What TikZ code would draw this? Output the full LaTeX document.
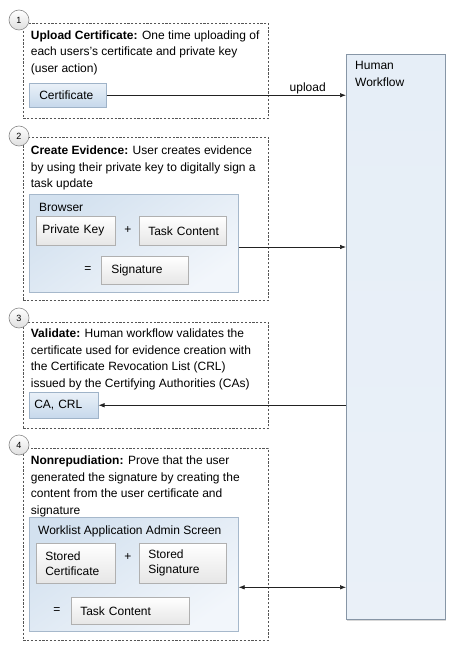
\documentclass[tikz,border=0pt]{standalone}
\usepackage{fontspec}
\setmainfont{Liberation Sans}
\usetikzlibrary{arrows.meta,shadows}
\definecolor{framec}{HTML}{555555}
\definecolor{numc}{HTML}{8A8A8A}
\definecolor{panelb}{HTML}{A6B8CB}
\definecolor{panelA}{HTML}{D3E1EF}
\definecolor{panelB}{HTML}{F2F6FB}
\definecolor{wboxb}{HTML}{B0B0B0}
\definecolor{wboxbot}{HTML}{E6E6E6}
\definecolor{bboxb}{HTML}{9FB3C8}
\definecolor{bboxA}{HTML}{EAF1F8}
\definecolor{bboxB}{HTML}{C6D8EB}
\definecolor{hwfill}{HTML}{E6EEF7}
\definecolor{hwb}{HTML}{8796A6}
\definecolor{linec}{HTML}{222222}
\tikzset{
  frame/.style={draw=framec, dash pattern=on 2.2pt off 1.6pt, line width=0.6pt, anchor=north west, inner sep=0},
  num/.style={circle, draw=numc, line width=0.6pt, top color=white, bottom color=gray!25, minimum size=20pt, inner sep=0, font=\fontsize{9}{9}\selectfont},
  desc/.style={anchor=north west, inner sep=0, align=left, font=\fontsize{12}{16.7}\selectfont},
  plain/.style={inner sep=0, font=\fontsize{12}{16}\selectfont},
  panel/.style={anchor=north west, draw=panelb, line width=0.6pt, top color=panelA, bottom color=panelB, shading angle=35, inner sep=0},
  wbox/.style={anchor=north west, draw=wboxb, line width=0.5pt, top color=white, bottom color=wboxbot, align=left,
     drop shadow={shadow xshift=0.8pt, shadow yshift=-0.8pt, opacity=0.25}, font=\fontsize{12}{15}\selectfont, inner ysep=0},
  bbox/.style={anchor=north west, draw=bboxb, line width=0.5pt, top color=bboxA, bottom color=bboxB, align=left,
     drop shadow={shadow xshift=0.8pt, shadow yshift=-0.8pt, opacity=0.2}, font=\fontsize{12}{15}\selectfont, inner ysep=0},
  hwbox/.style={anchor=north west, draw=hwb, line width=0.8pt, top color=hwfill, bottom color=hwfill!85!white, inner sep=0,
     drop shadow={shadow xshift=1pt, shadow yshift=-1.2pt, opacity=0.3}},
  conn/.style={draw=linec, line width=0.7pt},
  tipend/.style={-{Latex[length=6pt,width=4.5pt]}},
  tipboth/.style={{Latex[length=6pt,width=4.5pt]}-{Latex[length=6pt,width=4.5pt]}}
}
\begin{document}
\begin{tikzpicture}[x=1pt,y=-1pt]
\useasboundingbox (0,0) rectangle (453,650);
\fill[white] (0,0) rectangle (453,650);

% Human Workflow
\node[hwbox, minimum width=99pt, minimum height=565pt] (hw) at (346,54) {};
\node[plain, anchor=north west, align=left, font=\fontsize{12}{16.7}\selectfont] (hwt) at (355,61) {Human\\Workflow};

% frames
\node[frame, minimum width=245pt, minimum height=95pt] (f1) at (23,23) {};
\node[frame, minimum width=245pt, minimum height=163pt] (f2) at (23,137) {};
\node[frame, minimum width=245pt, minimum height=106pt] (f3) at (23,322) {};
\node[frame, minimum width=245pt, minimum height=192pt] (f4) at (23,448) {};

\node[num] (n1) at (19,20) {1};
\node[num] (n2) at (19,136) {2};
\node[num] (n3) at (19,318) {3};
\node[num] (n4) at (19,445) {4};

% step 1
\node[desc] (d1) at (30.7,30.2) {\textbf{Upload Certificate:} One time uploading of\\each users's certificate and private key\\(user action)};
\node[bbox, minimum width=77pt, minimum height=24pt, inner xsep=10pt, text width=57pt] (cert) at (29,83) {\mbox{Certificate}};

% step 2
\node[desc] (d2) at (30.7,145.5) {\textbf{Create Evidence:} User creates evidence\\by using their private key to digitally sign a\\task update};
\node[panel, minimum width=209pt, minimum height=98pt] (browser) at (29,194) {};
\node[plain, anchor=base west] (bt) at (39,211) {Browser};
\node[wbox, minimum width=79pt, minimum height=29pt, inner xsep=6pt, text width=67pt] (pk) at (36,216) {\mbox{Private Key}};
\node[plain] (plus1) at (128,230) {+};
\node[wbox, minimum width=87pt, minimum height=29pt, inner xsep=9pt, text width=69pt] (tc1) at (139,216) {\mbox{Task Content}};
\node[plain] (eq1) at (88,270) {=};
\node[wbox, minimum width=87pt, minimum height=28pt, inner xsep=10pt, text width=67pt] (sig) at (101,256) {\mbox{Signature}};

% step 3
\node[desc] (d3) at (30.7,328.5) {\textbf{Validate:} Human workflow validates the\\certificate used for evidence creation with\\the Certificate Revocation List (CRL)\\issued by the Certifying Authorities (CAs)};
\node[bbox, minimum width=69pt, minimum height=26pt, inner xsep=5pt, text width=59pt] (ca) at (29,392) {\mbox{CA, CRL}};

% step 4
\node[desc] (d4) at (30.7,455.5) {\textbf{Nonrepudiation:} Prove that the user\\generated the signature by creating the\\content from the user certificate and\\signature};
\node[panel, minimum width=209pt, minimum height=114pt] (wl) at (29,517) {};
\node[plain, anchor=base west] (wlt) at (38,534.3) {Worklist Application Admin Screen};
\node[wbox, minimum width=79pt, minimum height=40pt, inner xsep=9pt, text width=61pt] (sc) at (36,543) {\mbox{Stored}\\\mbox{Certificate}};
\node[plain] (plus2) at (128,557) {+};
\node[wbox, minimum width=87pt, minimum height=40pt, inner xsep=9pt, text width=69pt] (ss) at (139,543) {\mbox{Stored}\\\mbox{Signature}};
\node[plain] (eq2) at (57,611) {=};
\node[wbox, minimum width=118pt, minimum height=27pt, inner xsep=9pt, text width=100pt] (tc2) at (71,597) {\mbox{Task Content}};

% connectors
\draw[conn,tipend] (cert.east) -- (cert.east -| hw.west) node[pos=0.84, above=1pt, plain] (up) {upload};
\draw[conn,tipend] ([yshift=-3.7pt]browser.east) -- ([yshift=-3.7pt]browser.east -| hw.west);
\draw[conn,tipend] (ca.east -| hw.west) -- (ca.east);
\draw[conn,tipboth] ([yshift=-13pt]wl.east) -- ([yshift=-13pt]wl.east -| hw.west);
\end{tikzpicture}
\end{document}
